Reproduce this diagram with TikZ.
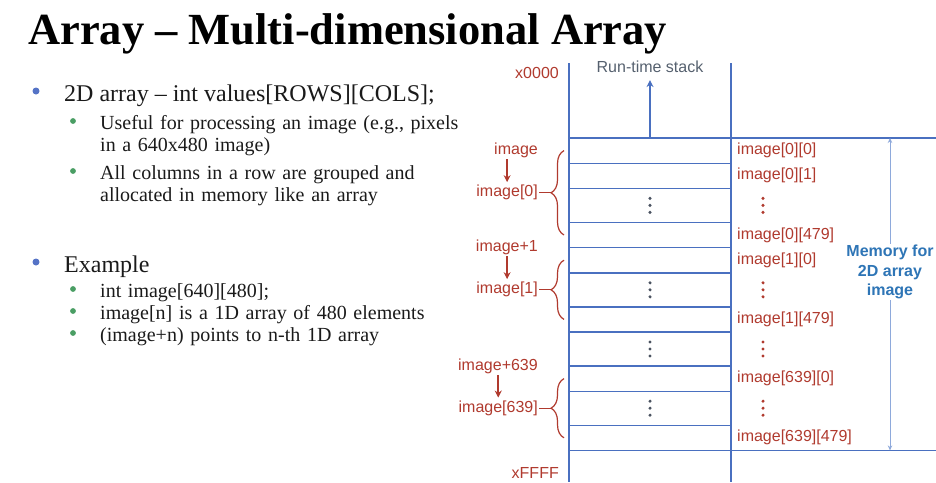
\documentclass[tikz,border=0pt]{standalone}
\usepackage{fontspec}
\setmainfont{Liberation Serif}
\setsansfont{Liberation Sans}
\usetikzlibrary{arrows.meta,positioning,calc,decorations.pathreplacing}
\definecolor{ink}{HTML}{1A1A1A}
\definecolor{memblue}{HTML}{4A70C0}
\definecolor{ptrred}{HTML}{B03A2E}
\definecolor{memtext}{HTML}{2E75B6}
\definecolor{stackgray}{HTML}{55606E}
\definecolor{dotgray}{HTML}{4A5260}
\definecolor{bulblue}{HTML}{5573C6}
\definecolor{bulgreen}{HTML}{4A9E64}
\definecolor{arrowsky}{HTML}{8EA9DB}
\newcommand{\labelfont}{\sffamily\fontsize{16}{19.5}\selectfont}
\tikzset{
  >={Stealth[length=7pt,width=7pt]},
  headline/.style={anchor=base west,inner sep=0pt,text=black,
    font=\bfseries\fontsize{44.5}{50}\selectfont},
  mainitem/.style={anchor=base west,inner sep=0pt,text=ink,
    font=\fontsize{24}{26}\selectfont},
  subitem/.style={anchor=base west,inner sep=0pt,text=ink,align=left,
    text width=370pt,font=\fontsize{20}{22}\selectfont},
  cell/.style={draw=memblue,line width=1.4pt,minimum width=162pt,
    minimum height=25.2pt,inner sep=0pt,outer sep=0pt},
  dotcell/.style={cell,minimum height=34pt},
  memline/.style={draw=memblue,line width=1.4pt},
  elem/.style={font=\labelfont,text=ptrred,inner sep=1pt},
  ptr/.style={font=\labelfont,text=ptrred,inner sep=1pt},
  addr/.style={font=\labelfont,text=ptrred,inner sep=1pt},
  stacklabel/.style={font=\labelfont,text=stackgray,inner sep=1pt},
  memlabel/.style={font=\labelfont\bfseries,text=memtext,fill=white,
    align=center,inner sep=1pt},
  stackarrow/.style={->,draw=memblue,line width=1.3pt,shorten >=6pt},
  ptrarrow/.style={->,draw=ptrred,line width=1.5pt,shorten >=2pt},
  ptrline/.style={draw=ptrred,line width=1.2pt},
  memarrow/.style={{Stealth[length=5pt,width=4.5pt]}-{Stealth[length=5pt,width=4.5pt]},
    draw=arrowsky,line width=1pt},
  groupbrace/.style={decorate,decoration={brace,amplitude=13pt,raise=5pt},
    draw=ptrred,line width=1.2pt},
  pics/celldots/.style={code={
    \fill[#1] (0,-7) circle (1.7pt) (0,0) circle (1.7pt) (0,7) circle (1.7pt);}}
}

\begin{document}
\begin{tikzpicture}[x=1pt,y=-1pt,node distance=6pt]
  \useasboundingbox (0,0) rectangle (936,482);
  \node[headline] (head) at (28,44) {Array – Multi-dimensional Array};
  \node[mainitem] (i1) at (64,101) {2D array – int values[ROWS][COLS];};
  \node[subitem] (i1a) at (100,129) {Useful for processing an image (e.g., pixels\\in a 640x480 image)};
  \node[subitem] (i1b) at (100,179) {All columns in a row are grouped and\\allocated in memory like an array};
  \node[mainitem] (i2) at (64,272) {Example};
  \node[subitem] (i2a) at (100,297) {int image[640][480];};
  \node[subitem] (i2b) at (100,319) {image[n] is a 1D array of 480 elements};
  \node[subitem] (i2c) at (100,341) {(image+n) points to n-th 1D array};
  \foreach \n in {i1,i2} \fill[bulblue] ([shift={(-28,-10)}]\n.base west) circle (3.5pt);
  \foreach \n in {i1a,i1b,i2a,i2b,i2c} \fill[bulgreen] ([shift={(-27,-8)}]\n.base west) circle (2.9pt);

  \node[cell,anchor=north] (c1) at (650,138) {};
  \node[cell,below=0pt of c1] (c2) {};
  \node[dotcell,below=0pt of c2] (c3) {};
  \node[cell,below=0pt of c3] (c4) {};
  \node[cell,below=0pt of c4] (c5) {};
  \node[dotcell,below=0pt of c5] (c6) {};
  \node[cell,below=0pt of c6] (c7) {};
  \node[dotcell,below=0pt of c7] (c8) {};
  \node[cell,below=0pt of c8] (c9) {};
  \node[dotcell,below=0pt of c9] (c10) {};
  \node[cell,below=0pt of c10] (c11) {};
  \coordinate (redge) at (936,138);
  \draw[memline] (c1.north west |- 0,63) -- (c11.south west |- 0,482);
  \draw[memline] (c1.north east |- 0,63) -- (c11.south east |- 0,482);
  \draw[memline] (c1.north west) -- (c1.north west -| redge);
  \draw[memline] (c11.south west) -- (c11.south west -| redge);

  \node[elem,right=5pt of c1] (e1) {image[0][0]};
  \node[elem,right=5pt of c2] (e2) {image[0][1]};
  \node[elem,right=5pt of c4] (e4) {image[0][479]};
  \node[elem,right=5pt of c5] (e5) {image[1][0]};
  \node[elem,right=5pt of c7] (e7) {image[1][479]};
  \node[elem,right=5pt of c9] (e9) {image[639][0]};
  \node[elem,right=5pt of c11] (e11) {image[639][479]};
  \foreach \c in {c3,c6,c8,c10} {
    \pic at (\c) {celldots=dotgray};
    \pic at ($(\c.east)+(32,0)$) {celldots=ptrred};
  }

  \node[stacklabel] (stack) at (650,67) {Run-time stack};
  \draw[stackarrow] (c1.north) -- (stack.south);
  \node[addr,anchor=east] (lo) at (560,73) {x0000};
  \node[addr,anchor=east] (hi) at (560,473) {xFFFF};

  \coordinate (memx) at (890,272);
  \draw[memarrow] (memx |- c1.north) -- (memx |- c11.south);
  \node[memlabel] (mem) at (memx) {Memory for\\2D array\\image};

  \coordinate[xshift=-18pt] (tip0) at ($(c1.west)!.5!(c4.west)$);
  \node[ptr,left=12pt of tip0] (idx0) {image[0]};
  \node[ptr,above=42pt of idx0.east,anchor=east] (ptr0) {image};
  \draw[groupbrace] (c4.west) -- (c1.west);
  \draw[ptrline] (tip0) -- (idx0.east); \draw[ptrarrow] (ptr0.south -| idx0.center) -- (idx0.north);

  \coordinate[xshift=-18pt] (tip1) at ($(c5.west)!.5!(c7.west)$);
  \node[ptr,left=12pt of tip1] (idx1) {image[1]};
  \node[ptr,above=42pt of idx1.east,anchor=east] (ptr1) {image+1};
  \draw[groupbrace] (c7.west) -- (c5.west);
  \draw[ptrline] (tip1) -- (idx1.east); \draw[ptrarrow] (ptr1.south -| idx1.center) -- (idx1.north);

  \coordinate[xshift=-18pt] (tip2) at ($(c9.west)!.5!(c11.west)$);
  \node[ptr,left=12pt of tip2] (idx2) {image[639]};
  \node[ptr,above=42pt of idx2.east,anchor=east] (ptr2) {image+639};
  \draw[groupbrace] (c11.west) -- (c9.west);
  \draw[ptrline] (tip2) -- (idx2.east); \draw[ptrarrow] (ptr2.south -| idx2.center) -- (idx2.north);
\end{tikzpicture}
\end{document}
